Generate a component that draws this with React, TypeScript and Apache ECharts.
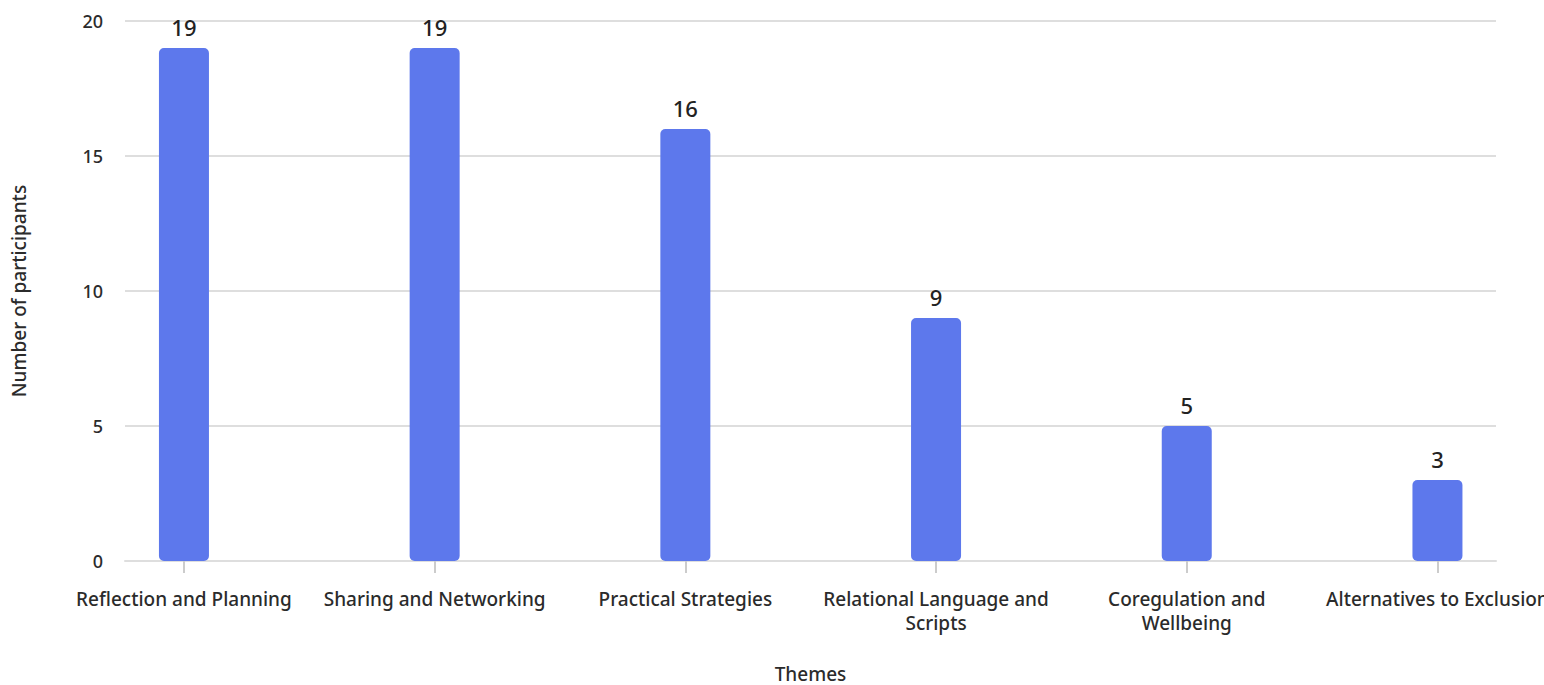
import React, { useEffect, useRef } from "react";
import * as echarts from "echarts";

const categories = [
  "Reflection and Planning",
  "Sharing and Networking",
  "Practical Strategies",
  "Relational Language and\nScripts",
  "Coregulation and\nWellbeing",
  "Alternatives to Exclusion",
];
const participants = [19, 19, 16, 9, 5, 3];
const yTicks = { min: 0, max: 20, interval: 5 };

const FONT = "Noto Sans";
const TEXT = "#2b2b2b";
const GRID = "#dedede";

export default function App() {
  const ref = useRef<HTMLDivElement>(null);
  useEffect(() => {
    if (!ref.current) return;
    const chart = echarts.init(ref.current, null, { renderer: "svg" });
    chart.setOption({
      animation: false,
      backgroundColor: "#ffffff",
      textStyle: { fontFamily: FONT },
      grid: [
        { left: 125, right: 48, top: 21, bottom: 124, containLabel: false, outerBoundsMode: "none" },
        { left: 58.6, width: 1504.2, top: 21, bottom: 124, containLabel: false, outerBoundsMode: "none" },
      ],
      xAxis: [
        {
          gridIndex: 0,
          type: "value",
          min: 0,
          max: 1,
          axisLine: { show: true, lineStyle: { color: GRID, width: 2 } },
          axisTick: { show: false },
          axisLabel: { show: false },
          splitLine: { show: false },
          name: "Themes",
          nameLocation: "middle",
          nameGap: 103,
          nameTextStyle: { fontSize: 19, color: TEXT, fontFamily: FONT, fontWeight: 500 },
        },
        {
          gridIndex: 1,
          type: "category",
          data: categories,
          axisLine: { show: false },
          axisTick: {
            show: true,
            alignWithLabel: true,
            length: 12,
            lineStyle: { color: "#cccccc", width: 2 },
          },
          axisLabel: {
            interval: 0,
            fontSize: 19,
            color: TEXT,
            fontFamily: FONT,
            fontWeight: 500,
            margin: 26,
            lineHeight: 24,
          },
        },
      ],
      yAxis: [
        {
          gridIndex: 0,
          type: "value",
          min: yTicks.min,
          max: yTicks.max,
          interval: yTicks.interval,
          axisLine: { show: false },
          axisTick: { show: false },
          axisLabel: { fontSize: 18, color: TEXT, fontFamily: FONT, fontWeight: 500, margin: 22 },
          splitLine: { show: true, lineStyle: { color: GRID, width: 2 } },
          name: "Number of participants",
          nameLocation: "middle",
          nameGap: 97,
          nameTextStyle: { fontSize: 19, color: TEXT, fontFamily: FONT, fontWeight: 500 },
        },
        {
          gridIndex: 1,
          type: "value",
          min: yTicks.min,
          max: yTicks.max,
          interval: yTicks.interval,
          show: false,
          splitLine: { show: false },
        },
      ],
      series: [
        {
          type: "bar",
          xAxisIndex: 1,
          yAxisIndex: 1,
          data: participants,
          barWidth: 50,
          itemStyle: { color: "#5D78EC", borderRadius: 5 },
          label: {
            show: true,
            position: "top",
            distance: 10,
            fontSize: 22,
            color: "#222222",
            fontFamily: FONT,
            fontWeight: 500,
          },
        },
      ],
    });
    return () => chart.dispose();
  }, []);
  return (
    <div
      ref={ref}
      style={{ position: "fixed", left: 0, top: 0, width: 1544, height: 685, background: "#fff" }}
    />
  );
}
